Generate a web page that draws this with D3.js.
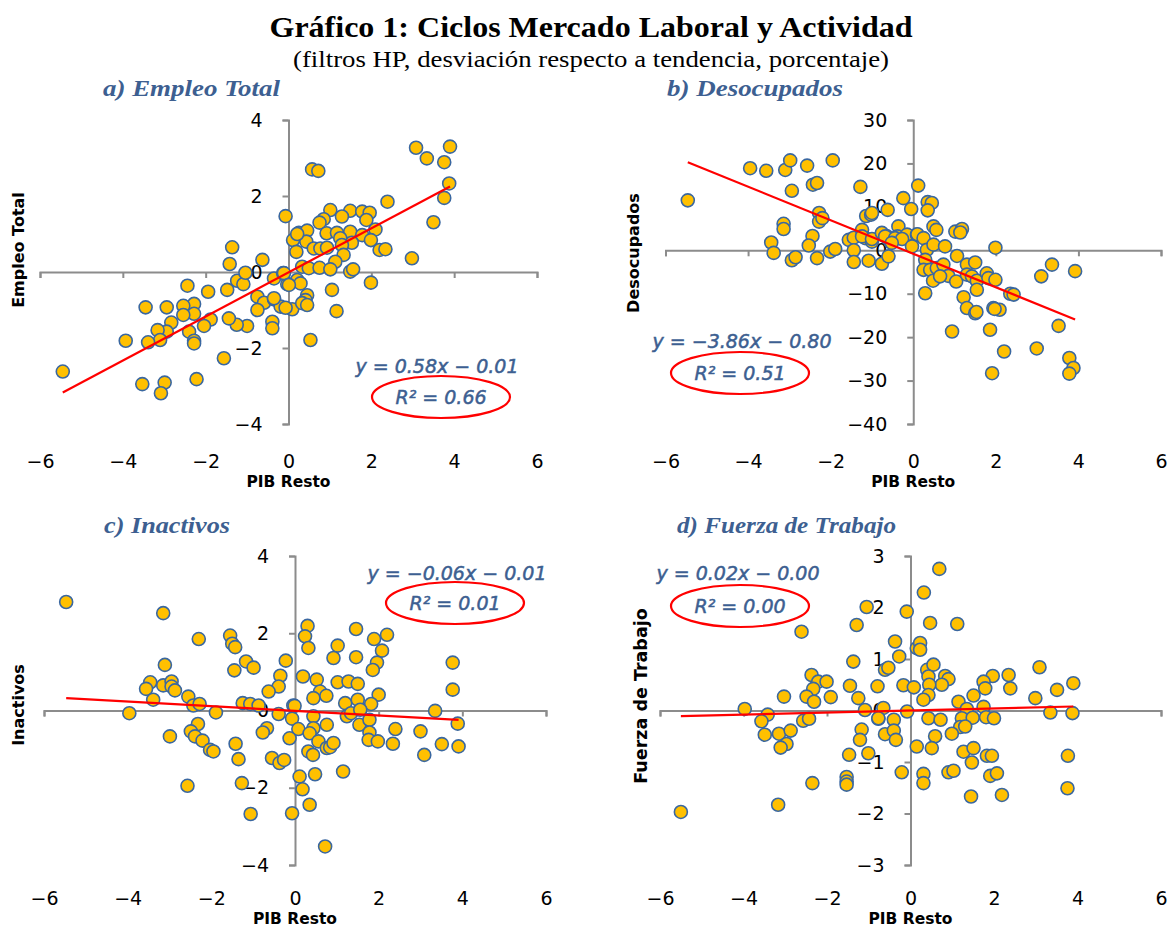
<!DOCTYPE html>
<html><head><meta charset="utf-8">
<script src="https://cdn.jsdelivr.net/npm/d3@7"></script>
<style>body{margin:0;background:#fff}</style>
</head><body>
<svg id="c" width="1172" height="930"></svg>
<script>
// ---------- DATA ----------
const chartTitle = "Gráfico 1: Ciclos Mercado Laboral y Actividad";
const chartSubtitle = "(filtros HP, desviación respecto a tendencia, porcentaje)";
const panelTitles = ["a) Empleo Total", "b) Desocupados", "c) Inactivos", "d) Fuerza de Trabajo"];
const yTitles = ["Empleo Total", "Desocupados", "Inactivos", "Fuerza de Trabajo"];
const xTitle = "PIB Resto";
const xTicks = [-6, -4, -2, 0, 2, 4, 6];
const yTicksA = [-4, -2, 0, 2, 4];
const yTicksB = [-40, -30, -20, -10, 0, 10, 20, 30];
const yTicksC = [-4, -2, 0, 2, 4];
const yTicksD = [-3, -2, -1, 0, 1, 2, 3];
const slopes = [0.58, -3.86, -0.06, 0.02];
const intercepts = [-0.01, -0.80, -0.01, -0.00];
const r2Values = [0.66, 0.51, 0.01, 0.00];

const empleoPts = [[-5.45,-2.62],[-0.07,1.47],[-1.36,0.65],[-1.42,0.21],[-0.63,0.32],[-2.44,-0.36],[-1.94,-0.52],[-1.48,-0.47],[-1.24,-0.23],[-1.09,-0.32],[-1.04,-0.02],[-0.75,-0.65],[-0.59,-0.81],[-0.75,-1.0],[-0.35,-0.72],[-0.19,-0.91],[0.09,-0.98],[-0.03,-0.32],[-0.35,-0.17],[-0.13,-0.03],[-0.39,-1.31],[-0.39,-1.48],[-1.0,-1.42],[-1.25,-1.39],[-1.44,-1.22],[-1.56,-2.27],[-1.88,-1.25],[-2.04,-1.42],[-2.28,-0.84],[-2.28,-1.1],[-2.54,-0.89],[-2.54,-1.13],[-2.40,-1.57],[-2.28,-1.81],[-2.28,-1.88],[-2.22,-2.82],[-2.94,-0.93],[-2.83,-1.33],[-2.94,-1.57],[-3.16,-1.53],[-3.10,-1.79],[-3.39,-1.85],[-3.45,-0.93],[-3.93,-1.81],[-3.53,-2.95],[-2.99,-2.91],[-3.08,-3.19],[3.08,3.27],[3.90,3.30],[3.34,2.99],[3.76,2.89],[3.88,2.33],[3.76,1.95],[3.50,1.31],[2.98,0.36],[2.39,1.85],[0.57,2.70],[0.72,2.66],[1.99,-0.28],[1.05,-0.47],[1.16,-1.03],[0.53,-1.79],[1.01,1.63],[1.49,1.61],[1.78,1.59],[1.96,1.56],[1.29,1.46],[0.85,1.39],[0.75,1.30],[1.88,1.37],[2.10,1.12],[0.25,1.03],[0.45,1.09],[0.92,1.02],[1.17,1.03],[1.49,1.06],[1.78,0.97],[0.11,0.84],[0.43,0.80],[1.25,0.89],[1.53,0.77],[1.99,0.84],[0.61,0.62],[0.77,0.62],[0.93,0.64],[1.29,0.71],[2.20,0.58],[2.34,0.60],[0.19,0.53],[1.33,0.45],[1.13,0.27],[0.33,0.14],[0.49,0.10],[0.75,0.11],[1.01,0.07],[1.49,0.01],[1.56,0.07],[0.21,-0.21],[0.29,-0.30],[-0.11,-0.03],[0.01,-0.34],[0.45,-0.61],[0.41,-0.74],[0.33,-0.82],[0.45,-0.87],[-0.07,-0.94],[-0.35,-0.69],[0.21,1.0]];

const desocPts = [[-5.46,11.5],[-3.95,18.9],[-3.56,18.3],[-3.10,18.5],[-2.98,20.7],[-2.57,19.5],[-1.95,20.7],[-2.94,13.7],[-2.43,15.1],[-2.33,15.5],[-1.28,14.6],[-3.14,6.1],[-3.14,4.9],[-2.28,8.6],[-2.28,6.6],[-2.20,7.4],[-2.44,3.3],[-2.53,1.1],[-3.44,1.8],[-3.38,-0.6],[-2.94,-2.3],[-2.85,-1.6],[-2.33,-1.8],[-2.01,-0.3],[-1.89,0.3],[-1.56,2.4],[-1.44,2.9],[-1.24,4.7],[-1.16,2.8],[-1.14,7.9],[-1.02,8.2],[-0.62,9.3],[-1.44,0.0],[-1.44,-2.7],[-1.08,-2.4],[-0.76,-3.1],[-0.60,-1.4],[-0.76,3.8],[-0.65,3.3],[-1.0,2.0],[-0.36,5.5],[-0.38,3.2],[-0.24,12.0],[-0.05,9.5],[-0.15,3.6],[0.09,3.6],[-0.56,2.0],[0.12,14.9],[0.35,11.1],[0.45,10.9],[0.35,9.2],[-1.0,8.6],[0.49,5.5],[0.56,4.7],[1.02,4.3],[1.18,4.9],[1.14,4.1],[1.99,0.6],[-1.24,3.2],[-1.0,2.6],[-0.76,4.0],[-0.68,3.2],[0.10,3.7],[0.25,2.8],[-0.44,2.8],[-0.27,2.6],[-0.03,0.9],[-0.52,1.7],[0.33,0.1],[0.49,1.3],[0.77,0.9],[0.29,-2.2],[0.25,-4.5],[0.41,-4.5],[0.57,-4.1],[0.73,-3.3],[1.06,-1.3],[0.85,-5.9],[0.48,-7.0],[0.65,-6.0],[1.04,-7.2],[1.30,-3.3],[1.50,-2.8],[1.30,-5.6],[1.42,-6.0],[1.54,-7.0],[1.54,-9.1],[1.78,-5.3],[1.82,-6.4],[1.99,-6.8],[0.29,-9.9],[1.22,-10.8],[1.30,-13.3],[1.50,-14.5],[1.53,-14.2],[1.94,-13.3],[2.09,-13.7],[2.35,-10.0],[2.43,-10.2],[0.94,-18.7],[1.86,-18.3],[3.36,-3.3],[3.10,-6.0],[3.92,-4.8],[3.52,-17.4],[2.20,-23.3],[2.99,-22.6],[3.78,-24.8],[3.88,-27.1],[3.78,-28.4],[1.91,-28.3],[1.97,-13.5]];

const inactPts = [[-5.47,2.81],[-3.15,2.52],[-2.30,1.85],[-1.55,1.94],[-1.50,1.73],[-1.43,1.64],[-3.11,1.18],[-1.17,1.27],[-0.99,1.11],[-1.45,1.04],[-0.22,1.29],[-0.35,0.90],[-0.39,0.62],[-0.63,0.49],[-3.46,0.73],[-3.56,0.56],[-3.15,0.65],[-2.95,0.75],[-2.95,0.62],[-2.87,0.52],[-3.39,0.28],[-2.55,0.36],[-2.43,0.13],[-2.28,0.17],[-3.96,-0.07],[-1.89,-0.05],[-1.25,0.19],[-1.07,0.17],[-0.87,0.13],[-0.04,0.13],[-0.39,-0.09],[-0.07,-0.21],[0.08,-0.48],[-0.13,-0.72],[-0.67,-0.46],[-0.77,-0.57],[-2.32,-0.35],[-2.49,-0.54],[-2.39,-0.67],[-2.21,-0.78],[-2.03,-1.02],[-1.95,-1.06],[-2.99,-0.67],[-1.42,-0.86],[-1.35,-1.26],[-0.55,-1.23],[-0.37,-1.36],[-0.26,-1.28],[0.11,-1.71],[0.18,-2.04],[-1.27,-1.88],[-2.57,-1.95],[-1.06,-2.68],[-0.07,-2.66],[0.30,2.19],[0.24,1.92],[0.32,1.62],[0.19,0.88],[0.52,0.80],[0.60,0.49],[0.44,0.32],[0.75,0.38],[-0.01,0.12],[0.44,-0.15],[0.44,-0.46],[0.35,-0.59],[0.76,-0.37],[0.56,-0.80],[0.32,-1.06],[0.43,-1.15],[0.76,-0.97],[0.84,-0.95],[0.92,-0.84],[0.48,-1.65],[0.35,-2.44],[0.72,-3.52],[1.15,-1.58],[1.02,1.68],[0.92,1.36],[1.46,2.11],[1.46,1.38],[1.89,1.85],[2.20,1.96],[2.08,1.55],[1.96,1.24],[1.86,1.05],[1.02,0.73],[1.28,0.75],[1.50,0.69],[2.00,0.41],[1.20,0.19],[1.50,0.28],[1.82,0.17],[1.24,-0.15],[1.34,-0.07],[1.56,0.02],[1.54,-0.37],[1.78,-0.24],[1.78,-0.57],[1.76,-0.76],[1.98,-0.80],[2.34,-0.86],[2.40,-0.48],[3.00,-0.54],[3.09,-1.15],[3.35,-0.01],[3.51,-0.87],[3.77,1.24],[3.77,0.54],[3.89,-0.34],[3.91,-0.93]];

const fuerzaPts = [[-5.50,-1.97],[-3.97,0.03],[-3.42,-0.08],[-3.57,-0.21],[-3.49,-0.47],[-3.15,-0.45],[-2.87,-0.39],[-2.97,-0.65],[-3.11,-0.72],[-3.17,-1.83],[-3.03,0.27],[-2.61,1.53],[-2.37,0.69],[-2.21,0.56],[-2.33,0.42],[-2.49,0.27],[-2.31,0.17],[-2.01,0.56],[-1.91,0.26],[-2.57,-0.20],[-2.43,-0.16],[-2.35,-1.41],[-1.37,0.95],[-1.45,0.48],[-1.25,0.24],[-1.09,0.01],[-1.29,1.66],[-1.05,2.01],[-1.17,-0.37],[-1.21,-0.57],[-1.47,-0.86],[-1.01,-0.83],[-1.53,-1.29],[-1.53,-1.38],[-1.53,-1.44],[-0.61,0.79],[-0.53,0.83],[-0.79,0.47],[-0.65,0.05],[-0.77,-0.16],[-0.61,-0.46],[-0.40,-0.18],[-0.40,-0.39],[-0.35,-0.57],[-0.37,1.34],[-0.27,1.05],[-0.17,0.49],[-0.09,1.92],[-0.21,-1.20],[-0.08,-0.02],[0.47,1.70],[1.12,1.68],[0.15,1.21],[0.23,1.31],[0.23,1.18],[0.40,0.79],[0.55,0.89],[0.43,0.66],[0.83,0.67],[0.91,0.61],[0.75,0.50],[0.45,0.50],[1.97,0.67],[2.35,0.69],[2.39,0.43],[1.75,0.56],[1.79,0.43],[0.08,0.45],[0.43,0.30],[0.31,0.21],[1.15,0.17],[1.51,0.29],[1.75,0.07],[1.35,0.03],[-0.77,-0.15],[0.43,-0.15],[0.72,-0.18],[1.23,-0.15],[1.49,-0.14],[1.81,-0.13],[2.00,-0.15],[1.19,-0.32],[0.99,-0.45],[0.59,-0.50],[0.15,-0.70],[0.51,-0.73],[1.27,-0.80],[1.51,-0.73],[1.47,-1.01],[1.83,-0.88],[1.95,-0.88],[0.31,-1.23],[0.31,-1.41],[0.91,-1.20],[1.03,-1.17],[1.91,-1.27],[2.07,-1.22],[0.69,2.75],[0.32,2.29],[1.31,-0.31],[3.09,0.84],[3.51,0.40],[3.90,0.53],[2.99,0.24],[3.35,-0.04],[3.88,-0.05],[3.77,-0.88],[1.45,-1.67],[2.19,-1.64],[3.76,-1.51]];

// ---------- LAYOUT ----------
const svg = d3.select("#c");
const BLUE_TXT = "#3D5F91";
const AXIS = "#8c8c8c";
const SANS = "'DejaVu Sans', sans-serif";
const SERIF = "'Liberation Serif', 'Times New Roman', serif";

svg.append("text").attr("x", 591).attr("y", 37).attr("text-anchor", "middle")
  .attr("font-family", SERIF).attr("font-weight", "bold").attr("font-size", 30)
  .attr("textLength", 643).attr("lengthAdjust", "spacingAndGlyphs").text(chartTitle);
svg.append("text").attr("x", 591).attr("y", 67).attr("text-anchor", "middle")
  .attr("font-family", SERIF).attr("font-size", 23)
  .attr("textLength", 596).attr("lengthAdjust", "spacingAndGlyphs").text(chartSubtitle);

const panels = [
  {pts: empleoPts, yTicks: yTicksA, xr: [40, 537], yr: [424, 120], xLab: 454, xTit: 487, yTitX: 24, yTitY: 250, yTitFs: 16,
   titleX: 103, titleY: 96, titleW: 177, eq: [437, 373], ell: [441, 397]},
  {pts: desocPts, yTicks: yTicksB, xr: [665.5, 1161], yr: [424, 120], xLab: 454, xTit: 487, yTitX: 639, yTitY: 253, yTitFs: 16,
   titleX: 667, titleY: 96, titleW: 176, eq: [742, 348], ell: [740, 373]},
  {pts: inactPts, yTicks: yTicksC, xr: [44, 546], yr: [865, 556], xLab: 891, xTit: 924, yTitX: 24, yTitY: 705, yTitFs: 16,
   titleX: 104, titleY: 533, titleW: 126, eq: [457, 580], ell: [455, 603]},
  {pts: fuerzaPts, yTicks: yTicksD, xr: [660, 1161], yr: [865, 556], xLab: 891, xTit: 924, yTitX: 647, yTitY: 696, yTitFs: 17.5,
   titleX: 677, titleY: 533, titleW: 219, eq: [738, 580], ell: [740, 606]}
];

const fmtCoef = v => (v < 0 ? "−" : "") + Math.abs(v).toFixed(2);

panels.forEach((p, i) => {
  const g = svg.append("g");
  const x = d3.scaleLinear().domain([xTicks[0], xTicks[xTicks.length - 1]]).range(p.xr);
  const y = d3.scaleLinear().domain(d3.extent(p.yTicks)).range(p.yr);

  // panel title
  g.append("text").attr("x", p.titleX).attr("y", p.titleY)
    .attr("font-family", SERIF).attr("font-weight", "bold").attr("font-style", "italic")
    .attr("font-size", 24).attr("fill", BLUE_TXT)
    .attr("textLength", p.titleW).attr("lengthAdjust", "spacingAndGlyphs").text(panelTitles[i]);

  // x axis line at y=0 with ticks
  const xa = g.append("g").attr("transform", `translate(0,${y(0)})`)
    .call(d3.axisBottom(x).tickValues(xTicks).tickSize(6).tickSizeOuter(6).tickFormat(""));
  xa.select(".domain").attr("stroke", AXIS).attr("stroke-width", 2);
  xa.selectAll(".tick line").attr("stroke", AXIS).attr("stroke-width", 2);

  // x tick labels at bottom
  const xl = g.append("g").attr("transform", `translate(0,${p.xLab})`)
    .call(d3.axisBottom(x).tickValues(xTicks).tickSize(0).tickPadding(0).tickFormat(d3.format("d")));
  xl.select(".domain").remove();
  xl.selectAll("text").attr("font-family", SANS).attr("font-size", 19).attr("fill", "#000");

  // y axis at x=0
  const ya = g.append("g").attr("transform", `translate(${x(0)},0)`)
    .call(d3.axisLeft(y).tickValues(p.yTicks).tickSize(6).tickSizeOuter(6).tickPadding(20).tickFormat(d3.format("d")));
  ya.select(".domain").attr("stroke", AXIS).attr("stroke-width", 2);
  ya.selectAll(".tick line").attr("stroke", AXIS).attr("stroke-width", 2);
  ya.selectAll("text").attr("font-family", SANS).attr("font-size", 19).attr("fill", "#000");

  // axis titles
  g.append("text").attr("x", (p.xr[0] + p.xr[1]) / 2).attr("y", p.xTit).attr("text-anchor", "middle")
    .attr("font-family", SANS).attr("font-weight", "bold").attr("font-size", 15.5).text(xTitle);
  g.append("text").attr("transform", `translate(${p.yTitX},${p.yTitY}) rotate(-90)`)
    .attr("text-anchor", "middle").attr("font-family", SANS).attr("font-weight", "bold")
    .attr("font-size", p.yTitFs).text(yTitles[i]);

  // points
  g.append("g").selectAll("circle").data(p.pts).join("circle")
    .attr("cx", d => x(d[0])).attr("cy", d => y(d[1])).attr("r", 6.5)
    .attr("fill", "#FFC000").attr("stroke", "#3A67A0").attr("stroke-width", 1.6);

  // trend line
  const [xmin, xmax] = d3.extent(p.pts, d => d[0]);
  const f = v => slopes[i] * v + intercepts[i];
  g.append("line").attr("x1", x(xmin)).attr("y1", y(f(xmin))).attr("x2", x(xmax)).attr("y2", y(f(xmax)))
    .attr("stroke", "#FF0000").attr("stroke-width", 2.2);

  // equation + R2
  const eqText = `y = ${fmtCoef(slopes[i])}x − ${Math.abs(intercepts[i]).toFixed(2)}`;
  g.append("text").attr("x", p.eq[0]).attr("y", p.eq[1]).attr("text-anchor", "middle")
    .attr("font-family", SANS).attr("font-style", "italic").attr("font-size", 19)
    .attr("fill", BLUE_TXT).attr("stroke", BLUE_TXT).attr("stroke-width", 0.5).text(eqText);
  g.append("ellipse").attr("cx", p.ell[0]).attr("cy", p.ell[1]).attr("rx", 69).attr("ry", 21)
    .attr("fill", "none").attr("stroke", "#FF0000").attr("stroke-width", 2.2);
  g.append("text").attr("x", p.ell[0]).attr("y", p.ell[1] + 7).attr("text-anchor", "middle")
    .attr("font-family", SANS).attr("font-style", "italic").attr("font-size", 19)
    .attr("fill", BLUE_TXT).attr("stroke", BLUE_TXT).attr("stroke-width", 0.5)
    .text(`R² = ${r2Values[i].toFixed(2)}`);
});
</script>
</body></html>
